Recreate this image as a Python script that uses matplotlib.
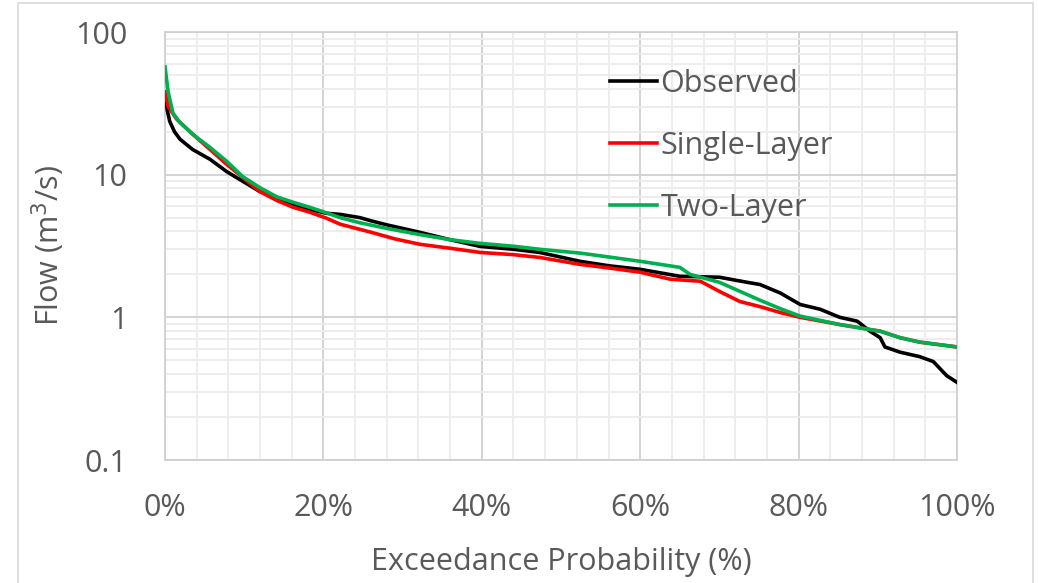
import matplotlib
matplotlib.use("Agg")
import matplotlib.pyplot as plt
from matplotlib.ticker import FixedLocator, NullFormatter, LogLocator
from matplotlib.patches import Rectangle

plt.rcParams['font.family'] = ['Open Sans', 'DejaVu Sans']

# Exceedance probability (%) and flow (m3/s)
obs_x = [0, 0.3, 0.6, 1.2, 1.9, 3.5, 5.7, 7.8, 9.8, 12.0, 14.1, 16.2, 18.3, 20.4, 22.1, 24.6,
         26.0, 28.0, 32.2, 36.0, 39.8, 44.0, 47.3, 52.4, 56.0, 60.0, 65.0, 70.0, 73.5, 75.1,
         77.7, 80.2, 82.7, 85.2, 87.4, 89.0, 90.3, 90.9, 92.8, 95.3, 97.0, 98.7, 100]
obs_y = [36, 28, 23.6, 20, 17.7, 15.0, 12.8, 10.5, 9.0, 7.6, 6.9, 6.2, 5.7, 5.36, 5.27, 5.0,
         4.75, 4.45, 3.94, 3.5, 3.14, 3.0, 2.85, 2.47, 2.3, 2.17, 1.94, 1.91, 1.76, 1.70,
         1.48, 1.23, 1.14, 1.0, 0.94, 0.80, 0.72, 0.62, 0.57, 0.53, 0.49, 0.39, 0.35]

single_x = [0, 0.4, 1.5, 3.5, 5.7, 7.8, 9.8, 12.0, 14.1, 16.2, 18.3, 20.4, 22.1, 26.0, 29.0,
            32.2, 36.0, 39.8, 44.0, 47.3, 52.4, 56.0, 60.0, 63.8, 67.6, 68.8, 70.0, 72.6,
            75.1, 77.7, 80.2, 85.2, 90.3, 92.8, 95.3, 100]
single_y = [38, 30, 24.4, 19.2, 15.0, 11.8, 9.6, 7.6, 6.6, 5.9, 5.45, 4.95, 4.5, 3.95, 3.55,
            3.25, 3.05, 2.85, 2.75, 2.63, 2.35, 2.22, 2.07, 1.85, 1.79, 1.65, 1.52, 1.29,
            1.19, 1.08, 1.0, 0.89, 0.80, 0.72, 0.67, 0.62]

two_x = [0, 0.4, 1.0, 1.9, 3.5, 5.7, 7.8, 9.8, 12.0, 14.1, 16.2, 18.3, 20.4, 22.1, 24.6,
         28.0, 32.2, 36.0, 39.8, 44.0, 47.3, 52.4, 56.0, 60.0, 65.0, 66.3, 70.0, 72.6, 75.1,
         77.7, 80.2, 85.2, 89.0, 90.3, 92.8, 95.3, 100]
two_y = [57, 38, 27, 23.2, 19.2, 15.5, 12.4, 9.7, 8.1, 7.0, 6.4, 5.9, 5.4, 5.0, 4.6,
         4.2, 3.8, 3.5, 3.3, 3.15, 3.0, 2.82, 2.65, 2.47, 2.24, 2.0, 1.76, 1.52, 1.32,
         1.15, 1.02, 0.89, 0.82, 0.80, 0.72, 0.67, 0.62]

x_ticks = [0, 20, 40, 60, 80, 100]
x_tick_labels = ['0%', '20%', '40%', '60%', '80%', '100%']
y_ticks = [0.1, 1, 10, 100]
y_tick_labels = ['0.1', '1', '10', '100']

W, H = 1038, 583
fig = plt.figure(figsize=(W / 100, H / 100), dpi=100)
ax = fig.add_axes([165 / W, 1 - 460 / H, (957 - 165) / W, (460 - 32) / H])

# chart-area border
fig.patches.append(Rectangle((18 / W, -0.05), (1033 - 18) / W, 1 - 3 / H + 0.05,
                             transform=fig.transFigure, fill=False,
                             edgecolor='#d9d9d9', linewidth=1.2))

lw = 2.6
ax.plot(obs_x, obs_y, color='black', lw=lw, label='Observed', zorder=3)
ax.plot(single_x, single_y, color='#ff0000', lw=lw, label='Single-Layer', zorder=4)
ax.plot(two_x, two_y, color='#00b050', lw=lw, label='Two-Layer', zorder=5)

ax.set_yscale('log')
ax.set_xlim(0, 100)
ax.set_ylim(0.1, 100)
ax.set_xticks(x_ticks)
ax.set_xticklabels(x_tick_labels)
ax.xaxis.set_minor_locator(FixedLocator([v for v in range(0, 101, 4) if v % 20 != 0]))
ax.set_yticks(y_ticks)
ax.set_yticklabels(y_tick_labels)
ax.yaxis.set_minor_locator(LogLocator(base=10, subs=range(2, 10)))
ax.yaxis.set_minor_formatter(NullFormatter())

ax.grid(which='major', color='#d0d0d0', lw=1.3)
ax.grid(which='minor', color='#ececec', lw=1.3)
ax.set_axisbelow(True)
for s in ax.spines.values():
    s.set_color('#d0d0d0')
    s.set_linewidth(1.3)

fs = 22
ax.tick_params(which='both', length=0, colors='#595959', labelsize=fs)
ax.tick_params(axis='x', pad=24)
ax.tick_params(axis='y', pad=27)

ax.set_xlabel('Exceedance Probability (%)', fontsize=fs, color='#595959', labelpad=17)
ax.set_ylabel('Flow (m$^3$/s)', fontsize=fs, color='#595959', labelpad=6)

leg = ax.legend(loc='upper left', bbox_to_anchor=(0.527, 0.978), frameon=False,
                fontsize=fs, handlelength=1.55, handletextpad=0.1,
                labelspacing=1.05, labelcolor='#595959')

fig.savefig('out.png', dpi=100, facecolor='white')
